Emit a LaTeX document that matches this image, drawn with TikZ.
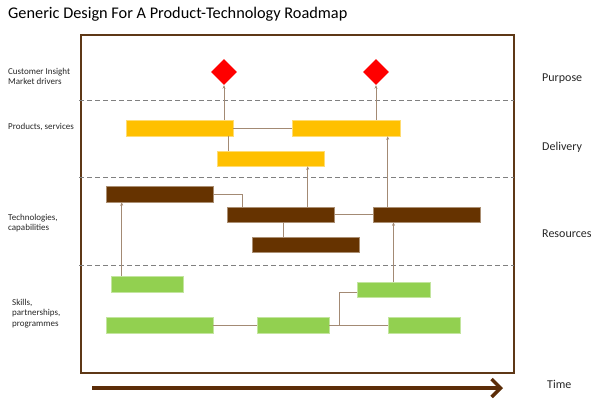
\documentclass[tikz,border=0pt]{standalone}
\usepackage{fontspec}
\setmainfont{Carlito}
\usetikzlibrary{shapes.geometric,arrows.meta}
\definecolor{ybar}{HTML}{FFC000}
\definecolor{bbar}{HTML}{663300}
\definecolor{gbar}{HTML}{92D050}
\definecolor{con}{HTML}{A38A74}
\definecolor{frm}{HTML}{5E3816}
\definecolor{tarr}{HTML}{5C2D08}
\tikzset{
  bar/.style={rectangle, inner sep=0, fill=#1, draw=#1!55!white, line width=0.6},
  goal/.style={diamond, aspect=1, inner sep=0, minimum size=26, fill=red},
  conn/.style={draw=con, line width=0.8},
  carr/.style={conn, -{Stealth[length=3.5pt,width=3pt]}},
  sep/.style={draw=gray, line width=0.9, dash pattern=on 5pt off 3pt},
  lab/.style={anchor=base west, inner sep=0, font=\fontsize{9}{10}\selectfont, text=black!85},
  rlab/.style={anchor=base west, inner sep=0, font=\fontsize{12}{14}\selectfont, text=black!85},
}
\begin{document}
\begin{tikzpicture}[x=1pt,y=-1pt]
\useasboundingbox (0,0) rectangle (600,405);
% title
\node[anchor=base west, inner sep=0, font=\fontsize{16.3}{19}\selectfont] (title) at (8,18.5) {Generic Design For A Product-Technology Roadmap};
% frame
\node[draw=frm, line width=1.8, minimum width=433, minimum height=338, inner sep=0] (frame) at (297.5,204) {};
% separators
\draw[sep] (79,100) -- (514,100);
\draw[sep] (79,177) -- (514,177);
\draw[sep] (79,265) -- (514,265);
% left labels
\node[lab] (l1) at (8,74) {Customer Insight};
\node[lab] (l2) at (8,84) {Market drivers};
\node[lab] (l3) at (8,129) {Products, services};
\node[lab] (l4) at (8,220) {Technologies,};
\node[lab] (l5) at (8,230) {capabilities};
\node[lab] (l6) at (12,305) {Skills,};
\node[lab] (l7) at (12,315.5) {partnerships,};
\node[lab] (l8) at (12,326) {programmes};
% right labels
\node[rlab] (r1) at (542,81) {Purpose};
\node[rlab] (r2) at (542,150.5) {Delivery};
\node[rlab] (r3) at (542,237) {Resources};
\node[rlab] (r4) at (547,388) {Time};
% goals
\node[goal] (d1) at (224,72) {};
\node[goal] (d2) at (376,72) {};
% products
\node[bar=ybar, minimum width=107, minimum height=16] (y1) at (179.5,128) {};
\node[bar=ybar, minimum width=108, minimum height=16] (y2) at (346,128) {};
\node[bar=ybar, minimum width=107, minimum height=15] (y3) at (270.5,158.5) {};
% technologies
\node[bar=bbar, minimum width=107, minimum height=16] (b1) at (159.5,194) {};
\node[bar=bbar, minimum width=107, minimum height=15] (b2) at (280.5,214.5) {};
\node[bar=bbar, minimum width=107, minimum height=15] (b3) at (305.5,244.5) {};
\node[bar=bbar, minimum width=107, minimum height=15] (b4) at (426.5,214.5) {};
% skills
\node[bar=gbar, minimum width=72, minimum height=16] (g1) at (147,284) {};
\node[bar=gbar, minimum width=107, minimum height=16] (g2) at (159.5,325) {};
\node[bar=gbar, minimum width=72, minimum height=16] (g5) at (293,325) {};
\node[bar=gbar, minimum width=73, minimum height=15] (g3) at (393.5,289.5) {};
\node[bar=gbar, minimum width=72, minimum height=16] (g4) at (424,325) {};
% connectors
\draw[carr] (y1.north -| d1) -- (d1.south);
\draw[carr] (y2.north -| d2) -- (d2.south);
\draw[conn] (y1.east) -- (y2.west);
\draw[conn] ([xshift=-5]y1.south east) -- ([xshift=-5]y1.south east |- y3.north);
\draw[carr] ([xshift=15]b4.north west) -- ([xshift=15]b4.north west |- y2.south);
\draw[carr] ([xshift=81]b2.north west) -- ([xshift=81]b2.north west |- y3.south);
\draw[conn] (b1.east) -| ([xshift=16]b2.north west);
\draw[conn] ([xshift=2.5]b2.south) -- ([xshift=2.5]b2.south |- b3.north);
\draw[conn] (b2.east) -- (b4.west);
\draw[carr] ([xshift=11]g1.north west) -- ([xshift=11]g1.north west |- b1.south);
\draw[carr] (g3.north) -- (g3.north |- b4.south);
\draw[conn] (g2.east) -- (g5.west);
\draw[conn] (g5.east) -- (g4.west);
\draw[conn] ([xshift=10]g5.east) |- ([yshift=-3pt]g3.west);
% time arrow
\coordinate (t0) at (92,388);
\coordinate (t1) at (503,388);
\draw[draw=tarr, line width=4, -{Straight Barb[length=9pt,width=18pt,line width=3.5pt]}] (t0) -- (t1);
\end{tikzpicture}
\end{document}
